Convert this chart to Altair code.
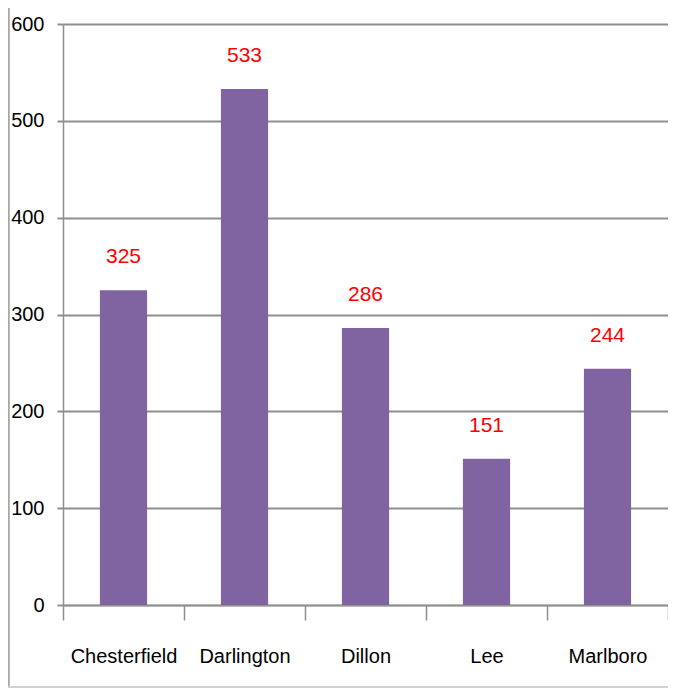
import altair as alt
import pandas as pd

counties = ["Chesterfield", "Darlington", "Dillon", "Lee", "Marlboro"]
values = [325, 533, 286, 151, 244]

df = pd.DataFrame({"county": counties, "value": values})

FONT = "Liberation Sans"
GRAY = "#8f8f8f"
W = 605
H = 581

x_enc = alt.X(
    "county:N",
    sort=counties,
    title=None,
    scale=alt.Scale(paddingInner=0, paddingOuter=0),
    axis=alt.Axis(
        labelAngle=0,
        labelFont=FONT,
        labelFontSize=20,
        labelColor="#000000",
        labelBaseline="alphabetic",
        labelPadding=42,
        tickBand="extent",
        tickSize=15,
        tickColor=GRAY,
        tickWidth=1.5,
        domainColor=GRAY,
        domainWidth=1.5,
        grid=False,
    ),
)
y_enc = alt.Y(
    "value:Q",
    title=None,
    scale=alt.Scale(domain=[0, 600], nice=False),
    axis=alt.Axis(
        values=[0, 100, 200, 300, 400, 500, 600],
        labelFont=FONT,
        labelFontSize=20,
        labelColor="#000000",
        labelPadding=13,
        tickSize=6,
        tickColor=GRAY,
        tickWidth=2,
        domainColor=GRAY,
        domainWidth=1.5,
        grid=True,
        gridColor=GRAY,
        gridWidth=2,
    ),
)

bars = alt.Chart(df).mark_bar(
    color="#8064A2", width=alt.RelativeBandSize(0.39)
).encode(x=x_enc, y=y_enc)

labels = alt.Chart(df).mark_text(
    color="#ff0000", font=FONT, fontSize=21, baseline="alphabetic", dy=-27
).encode(x=alt.X("county:N", sort=counties), y="value:Q", text="value:Q")

left_border = alt.Chart(df).mark_rule(color="#a6a6a6", strokeWidth=1.5).encode(
    x=alt.value(-54.5), y=alt.value(-16), y2=alt.value(H + 82)
)
bottom_border = alt.Chart(df).mark_rule(color="#d0d0d0", strokeWidth=1.5).encode(
    x=alt.value(-55), x2=alt.value(W), y=alt.value(H + 82)
)

chart = (
    alt.layer(bars, labels, left_border, bottom_border)
    .properties(
        width=W,
        height=H,
        autosize=alt.AutoSizeParams(type="none"),
        padding={"left": 55, "top": 16, "right": 0, "bottom": 83},
    )
    .configure_view(stroke="transparent")
)

chart.save("out.html", embed_options={"renderer": "svg", "actions": False})
